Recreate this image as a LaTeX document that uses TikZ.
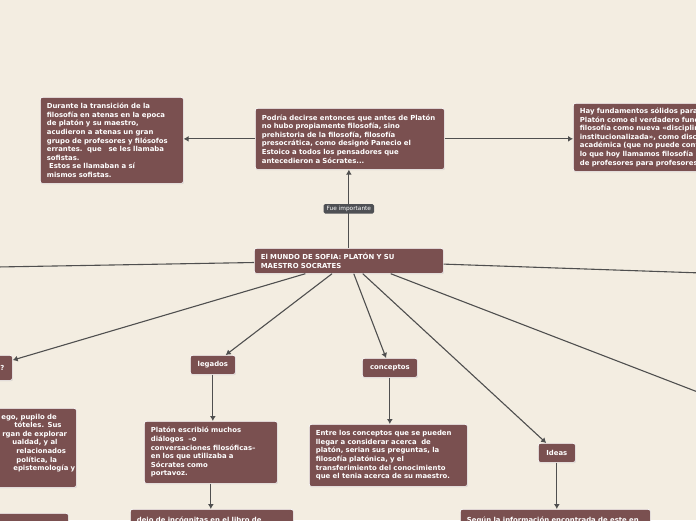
\documentclass[tikz,border=0pt]{standalone}
\usepackage{fontspec}
\setmainfont{DejaVu Sans}
\usetikzlibrary{arrows.meta,shadows}
\definecolor{Cream}{HTML}{F3EDE1}
\definecolor{Maroon}{HTML}{7A5050}
\definecolor{Slate}{HTML}{4F4F4F}
\definecolor{Graphite}{HTML}{4E5054}

\begin{document}
\begin{tikzpicture}[x=1pt,y=-1pt,>={Latex[length=5pt,width=6pt]},
    card/.style={draw=white,line width=0.7pt,rounded corners=2pt,fill=Maroon,text=white,anchor=north west,inner xsep=6.5pt,inner ysep=0pt,align=left,font=\bfseries\fontsize{6.9}{8.6}\selectfont,drop shadow={shadow xshift=0.5pt,shadow yshift=-0.8pt,opacity=0.3}},
    chip/.style={card,align=center},
    link/.style={draw=Slate,line width=1.1pt},
    tag/.style={fill=Graphite,text=white,rounded corners=1.5pt,font=\fontsize{5.8}{6}\selectfont,inner xsep=3pt,inner ysep=2pt}]
    \useasboundingbox (0,0) rectangle (696,520);
    \clip (0,0) rectangle (696,520);
    \fill[Cream] (0,0) rectangle (696,520);

    \node[card,text width=130pt,minimum height=86pt] (sofistas) at (40,97) {Durante la transición de la\\filosofía en atenas en la epoca\\de platón y su maestro,\\acudieron a atenas un gran\\grupo de profesores y filósofos\\errantes.\ \ que \ \ se les llamaba\\sofistas.\\\ Estos se llamaban a sí\\mismos sofistas.};
    \node[card,text width=176pt,minimum height=61pt] (antes) at (255,108) {Podría decirse entonces que antes de Platón\\no hubo propiamente filosofía, sino\\prehistoria de la filosofía, filosofía\\presocrática, como designó Panecio el\\Estoico a todos los pensadores que\\antecedieron a Sócrates...};
    \node[card,text width=200pt,minimum height=68pt] (fundamentos) at (573,103) {Hay fundamentos sólidos para\\Platón como el verdadero fundador\\filosofía como nueva «disciplina\\institucionalizada», como disciplina\\académica (que no puede confundirse\\lo que hoy llamamos filosofía\\de profesores para profesores};
    \node[card,text width=176pt,minimum height=25pt] (mundo) at (254,248) {El MUNDO DE SOFIA: PLATÓN Y SU\\MAESTRO SOCRATES};

    \node[card,text width=39pt,minimum height=25pt] (pregunta) at (-40,355) {\hspace*{33.5pt}?};
    \node[chip,text width=32pt,minimum height=19pt] (legados) at (190,355) {legados};
    \node[chip,text width=42pt,minimum height=19pt] (conceptos) at (362,358) {conceptos};
    \node[chip,text width=24pt,minimum height=19pt] (ideas) at (538,443) {Ideas};

    \node[card,text width=291pt,minimum height=79pt] (griego) at (-228,408) {\hspace*{222.5pt}\rlap{ego, pupilo de}\\\hspace*{235.5pt}\rlap{tóteles. Sus}\\\hspace*{223.5pt}\rlap{rgan de explorar}\\\hspace*{233.5pt}\rlap{ualdad, y al}\\\hspace*{237.5pt}\rlap{relacionados}\\\hspace*{237.5pt}\rlap{política, la}\\\hspace*{234.5pt}\rlap{epistemología y}\\\strut};
    \node[card,text width=120pt,minimum height=62pt] (dialogos) at (144,421) {Platón escribió muchos\\diálogos\ \ –o\\conversaciones filosóficas–\\en los que utilizaba a\\Sócrates como\\portavoz.};
    \node[card,text width=145pt,minimum height=62pt] (entre) at (309,424) {Entre los conceptos que se pueden\\llegar a considerar acerca\ \ de\\platón, serian sus preguntas, la\\filosofía platónica, y el\\transferimiento del conocimiento\\que el tenia acerca de su maestro.};
    \node[card,text width=150pt,minimum height=31pt] (incognitas) at (130,509) {dejo de incógnitas en el libro de\\\strut};
    \node[card,text width=177pt,minimum height=31pt] (segun) at (460,509) {Según la información encontrada de este en\\\strut};
    \node[card,text width=155pt,minimum height=31pt] (abajo) at (-100,513) {\strut};

    % ramas que salen del recorte
    \coordinate (farwest) at (-60,268);
    \coordinate (fareast) at (760,275);
    \coordinate (farsoutheast) at (760,416);

    \draw[link,->] (mundo.north) -- node[tag] (fue) {Fue importante} (mundo.north |- antes.south);
    \draw[link,->] (antes.west) -- (antes.west -| sofistas.east);
    \draw[link,->] (antes.east) -- (antes.east -| fundamentos.west);
    \draw[link] (mundo) -- (farwest);
    \draw[link] (mundo) -- (fareast);
    \draw[link] (mundo.south east) ++(-53,0) -- (farsoutheast);
    \draw[link,->] (mundo) -- (pregunta);
    \draw[link,->] (mundo) -- (legados);
    \draw[link,->] (mundo) -- (conceptos);
    \draw[link,->] (mundo) -- (ideas);
    \draw[link,->] (legados.south) -- (legados.south |- dialogos.north);
    \draw[link,->] (dialogos.south) -- (dialogos.south |- incognitas.north);
    \draw[link,->] (conceptos.south) -- (conceptos.south |- entre.north);
    \draw[link,->] (ideas.south) -- (ideas.south |- segun.north);
\end{tikzpicture}
\end{document}
